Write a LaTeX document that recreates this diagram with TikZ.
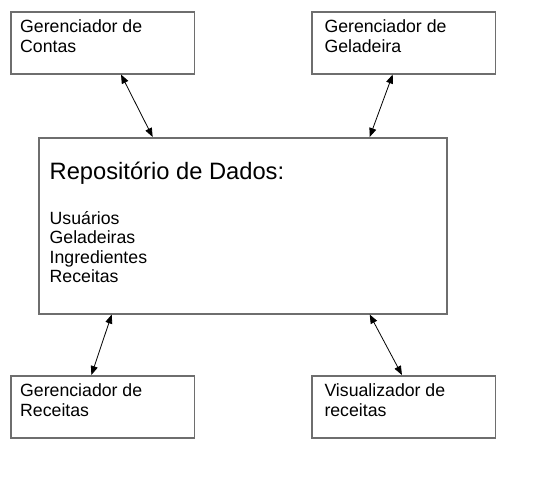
\documentclass[tikz,border=0pt]{standalone}
\usepackage{fontspec}
\setmainfont{Liberation Sans}
\usetikzlibrary{arrows.meta, positioning, calc}
\definecolor{borda}{RGB}{110,110,110}
\tikzset{
  caixa/.style ={rectangle, draw=borda, line width=1.5pt, minimum width=183.5pt, minimum height=62pt, inner sep=0pt},
  txt/.style   ={anchor=north west, align=left, inner sep=0pt, font=\fontsize{17.7}{19.5}\selectfont},
  fl2/.style   ={{Triangle[length=9pt,width=7pt]}-{Triangle[length=9pt,width=7pt]}, line width=0.8pt},
}

\begin{document}
\begin{tikzpicture}[x=1pt, y=-1pt, node distance=116.3pt]
  \useasboundingbox (0,0) rectangle (535,479);
  \node[caixa, anchor=north west, label={[txt, xshift=10pt, yshift=-8.5pt]north west:{Gerenciador de\\Contas}}] (contas) at (10,11) {};
  \node[caixa, right=of contas, label={[txt, xshift=13pt, yshift=-8.5pt]north west:{Gerenciador de\\Geladeira}}] (geladeira) {};
  \node[caixa, anchor=north west, minimum width=408pt, minimum height=176pt,
        label={[txt, xshift=11.5pt, yshift=-24.5pt]north west:{{\fontsize{23.7}{28}\selectfont Repositório de Dados:}\\[25.5pt]Usuários\\Geladeiras\\Ingredientes\\Receitas}}] (repo) at (38,137) {};
  \node[caixa, anchor=north west, label={[txt, xshift=10pt, yshift=-8.5pt]north west:{Gerenciador de\\Receitas}}] (receitas) at (10,375) {};
  \node[caixa, right=of receitas, label={[txt, xshift=13pt, yshift=-8.5pt]north west:{Visualizador de\\receitas}}] (visual) {};
  \draw[fl2] ($(contas.south west)!0.6!(contas.south east)$) -- ($(repo.north west)!0.28!(repo.north east)$);
  \draw[fl2] ($(geladeira.south west)!0.44!(geladeira.south east)$) -- ($(repo.north west)!0.81!(repo.north east)$);
  \draw[fl2] ($(repo.south west)!0.18!(repo.south east)$) -- ($(receitas.north west)!0.44!(receitas.north east)$);
  \draw[fl2] ($(repo.south west)!0.81!(repo.south east)$) -- ($(visual.north west)!0.49!(visual.north east)$);
\end{tikzpicture}
\end{document}
